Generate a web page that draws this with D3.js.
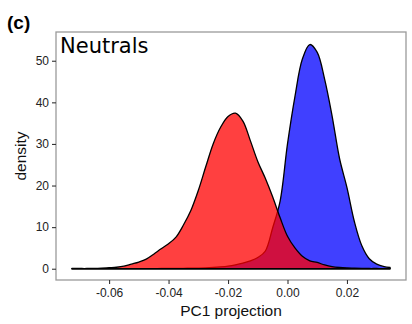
<!DOCTYPE html>
<html lang="en">
<head>
    <meta charset="UTF-8">
    <title>Neutrals PC1 density</title>
    <script src="https://d3js.org/d3.v7.min.js"></script>
    <style>
        body { margin: 0; background: #fff; }
        text { font-family: "Liberation Sans", Arial, sans-serif; }
    </style>
</head>
<body>
    <svg id="chart" width="412" height="324"></svg>
    <script>
        // PC1 projection grid and density values
        const pc1 = [-0.0725, -0.07, -0.0675, -0.065, -0.0625, -0.06, -0.0575, -0.055, -0.0525, -0.05,
            -0.0475, -0.045, -0.0425, -0.04, -0.0375, -0.035, -0.0325, -0.03, -0.0275, -0.025,
            -0.0225, -0.02, -0.0175, -0.015, -0.0125, -0.01, -0.0075, -0.005, -0.0025, 0,
            0.0025, 0.005, 0.0075, 0.01, 0.0125, 0.015, 0.0175, 0.02, 0.0225, 0.025,
            0.0275, 0.03, 0.0325, 0.0345];

        const redDensity = [0.05, 0.05, 0.05, 0.08, 0.15, 0.25, 0.35, 0.6, 1.1, 1.6,
            2.3, 3.5, 4.8, 6.0, 7.6, 10.5, 14.0, 18.8, 24.5, 30.0,
            34.0, 36.6, 37.4, 35.5, 30.8, 25.8, 21.8, 17.3, 12.3, 7.8,
            5.0, 3.0, 1.9, 1.5, 0.9, 0.5, 0.3, 0.2, 0.15, 0.1,
            0.05, 0.05, 0.03, 0.02];

        const blueDensity = [0, 0, 0, 0, 0, 0.01, 0.01, 0.02, 0.02, 0.03,
            0.03, 0.04, 0.05, 0.06, 0.08, 0.1, 0.12, 0.15, 0.2, 0.3,
            0.45, 0.65, 0.95, 1.35, 1.9, 2.7, 4.2, 9.8, 16.2, 30.0,
            41.4, 50.4, 53.9, 52.0, 45.5, 36.7, 26.5, 19.5, 11.3, 5.5,
            2.4, 1.1, 0.5, 0.3];

        const xTicks = [-0.06, -0.04, -0.02, 0, 0.02];
        const yTicks = [0, 10, 20, 30, 40, 50];

        const svg = d3.select("#chart");
        const margin = {top: 32, right: 6, bottom: 44, left: 56};
        const width = 412 - margin.left - margin.right;
        const height = 324 - margin.top - margin.bottom;

        const g = svg.append("g").attr("transform", `translate(${margin.left},${margin.top})`);

        // ggplot style 5% expansion
        const xExt = d3.extent(pc1);
        const xPad = (xExt[1] - xExt[0]) * 0.05;
        const yMax = 54.2;
        const x = d3.scaleLinear().domain([xExt[0] - xPad, xExt[1] + xPad]).range([0, width]);
        const y = d3.scaleLinear().domain([-yMax * 0.05, yMax * 1.05]).range([height, 0]);

        const area = d3.area()
            .x((d, i) => x(pc1[i]))
            .y0(y(0))
            .y1(d => y(d))
            .curve(d3.curveCatmullRom);

        // blue first, red on top
        g.append("path")
            .datum(blueDensity)
            .attr("d", area)
            .attr("fill", "#0000ff")
            .attr("fill-opacity", 0.75)
            .attr("stroke", "#000")
            .attr("stroke-width", 1.3)
            .attr("stroke-linejoin", "round");

        g.append("path")
            .datum(redDensity)
            .attr("d", area)
            .attr("fill", "#ff0000")
            .attr("fill-opacity", 0.75)
            .attr("stroke", "#000")
            .attr("stroke-width", 1.3)
            .attr("stroke-linejoin", "round");

        // panel border
        g.append("rect")
            .attr("x", 0).attr("y", 0)
            .attr("width", width).attr("height", height)
            .attr("fill", "none")
            .attr("stroke", "#9a9a9a")
            .attr("stroke-width", 1.3);

        const xAxis = g.append("g")
            .attr("transform", `translate(0,${height})`)
            .call(d3.axisBottom(x).tickValues(xTicks).tickSize(4).tickPadding(4)
                .tickFormat(d => d3.format(".2f")(d).replace("−", "-")));
        const yAxis = g.append("g")
            .call(d3.axisLeft(y).tickValues(yTicks).tickSize(4).tickPadding(3));

        [xAxis, yAxis].forEach(a => {
            a.select(".domain").remove();
            a.selectAll("line").attr("stroke", "#333").attr("stroke-width", 1.1);
            a.selectAll("text")
                .attr("fill", "#222")
                .style("font-family", "'Liberation Sans', Arial, sans-serif")
                .style("font-size", "12px");
        });

        // titles
        svg.append("text")
            .attr("x", margin.left + width / 2)
            .attr("y", 316)
            .attr("text-anchor", "middle")
            .attr("fill", "#111")
            .style("font-size", "15.5px")
            .text("PC1 projection");

        svg.append("text")
            .attr("transform", `translate(26,${margin.top + height / 2}) rotate(-90)`)
            .attr("text-anchor", "middle")
            .attr("fill", "#111")
            .style("font-size", "15.5px")
            .text("density");

        svg.append("text")
            .attr("x", 60)
            .attr("y", 53)
            .style("font-family", "'DejaVu Sans', sans-serif")
            .style("font-size", "21px")
            .attr("fill", "#000")
            .text("Neutrals");

        svg.append("text")
            .attr("x", 7)
            .attr("y", 29)
            .style("font-size", "19px")
            .style("font-weight", "bold")
            .attr("fill", "#000")
            .text("(c)");
    </script>
</body>
</html>
